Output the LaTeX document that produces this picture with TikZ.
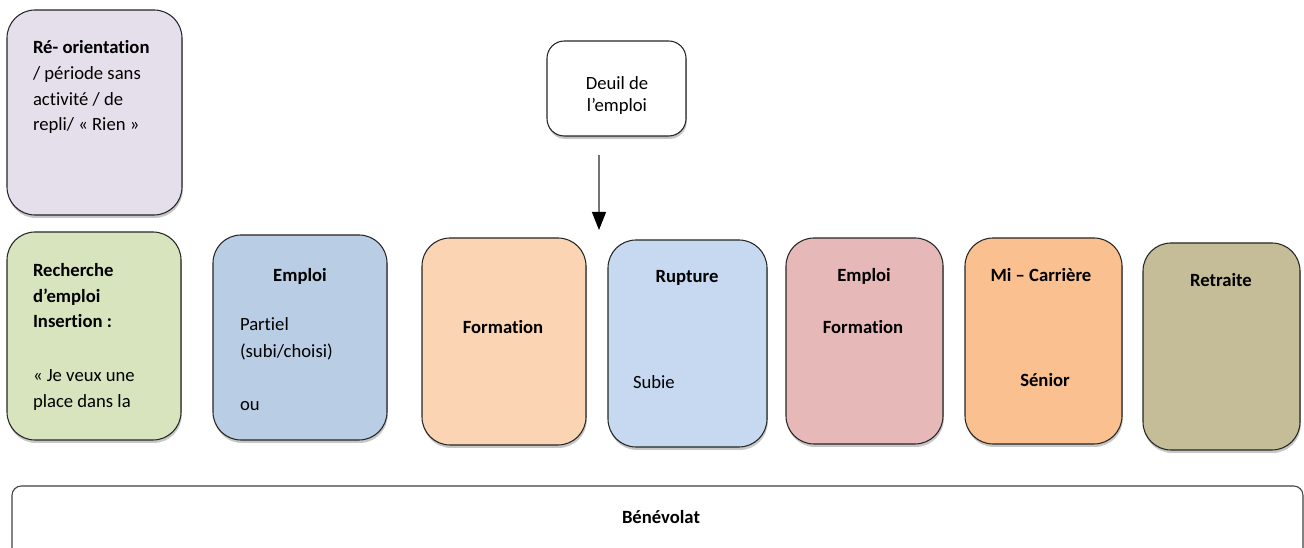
\documentclass[tikz,border=0pt]{standalone}
\usepackage{fontspec}
\setmainfont{Carlito}[Ligatures=NoCommon]
\usetikzlibrary{arrows.meta,shadows}
\definecolor{cReo}{HTML}{E5DFEC}
\definecolor{cRech}{HTML}{D7E4BD}
\definecolor{cEmpA}{HTML}{B9CDE5}
\definecolor{cForm}{HTML}{FBD4B4}
\definecolor{cRup}{HTML}{C6D9F1}
\definecolor{cEmpB}{HTML}{E6B9B8}
\definecolor{cMi}{HTML}{FAC090}
\definecolor{cRet}{HTML}{C4BD97}
\tikzset{
  box/.style={draw=black!85, line width=0.8pt, rounded corners=21pt, inner sep=0pt, outer sep=0pt,
    drop shadow={shadow xshift=0.6pt, shadow yshift=-2.2pt, opacity=0.4, fill=black!55}},
  smallbox/.style={box, rounded corners=13pt, fill=white, drop shadow={shadow xshift=0.4pt, shadow yshift=-1.2pt, opacity=0.15, fill=black!40}},
  widebox/.style={draw=black!75, line width=0.8pt, rounded corners=7pt, inner sep=0pt, outer sep=0pt, fill=white},
  txt/.style={inner sep=0pt, outer sep=0pt, font=\fontsize{14}{19.5}\selectfont},
  btxt/.style={txt, font=\fontsize{14}{19.5}\selectfont\bfseries},
  arr/.style={draw=black!55, line width=0.8pt, -{Triangle[length=13.5pt,width=10.5pt,color=black]}}
}
\begin{document}
\begin{tikzpicture}[x=0.75pt,y=-0.75pt]
\useasboundingbox (0,0) rectangle (1304,548);
\clip (0,0) rectangle (1304,548);
% boxes
\node[box, fill=cReo, minimum width=131.25pt, minimum height=153.75pt] (reo) at (94.5,112.5) {};
\node[box, fill=cRech, minimum width=130.5pt, minimum height=156pt] (rech) at (94,336) {};
\node[box, fill=cEmpA, minimum width=130.5pt, minimum height=153.75pt] (empA) at (300,337.5) {};
\node[box, fill=cForm, minimum width=123pt, minimum height=155.25pt] (form) at (504,341.5) {};
\node[box, fill=cRup, minimum width=119.25pt, minimum height=155.25pt] (rup) at (687.5,343.5) {};
\node[box, fill=cEmpB, minimum width=117.75pt, minimum height=154.5pt] (empB) at (864.5,341) {};
\node[box, fill=cMi, minimum width=117.75pt, minimum height=154.5pt] (mi) at (1043.5,341) {};
\node[box, fill=cRet, minimum width=117.75pt, minimum height=155.25pt] (ret) at (1221.5,346.5) {};
\node[smallbox, minimum width=104.25pt, minimum height=71.25pt] (deuil) at (616.5,88.5) {};
\node[widebox, minimum width=968.25pt, minimum height=70.5pt] (ben) at (657.5,533) {};
% texts: reo
\node[btxt, anchor=base west] (reo1) at (33,54) {Ré- orientation};
\node[txt, anchor=base west] (reo2) at (33,80) {/ période sans};
\node[txt, anchor=base west] (reo3) at (33,106) {activité / de};
\node[txt, anchor=base west] (reo4) at (33,131) {repli/ « Rien »};
% recherche
\node[btxt, anchor=base west] (rech1) at (33,277) {Recherche};
\node[btxt, anchor=base west] (rech2) at (33,303) {d’emploi};
\node[btxt, anchor=base west] (rech3) at (33,328) {Insertion :};
\node[txt, anchor=base west] (rech4) at (33,382) {« Je veux une};
\node[txt, anchor=base west] (rech5) at (33,408) {place dans la};
% emploi A
\node[btxt, anchor=base] (empA1) at (300,282) {Emploi};
\node[txt, anchor=base west] (empA2) at (240,331) {Partiel};
\node[txt, anchor=base west] (empA3) at (240,358) {(subi/choisi)};
\node[txt, anchor=base west] (empA4) at (240,411) {ou};
% formation
\node[btxt, anchor=base] (form1) at (503,334) {Formation};
% rupture
\node[btxt, anchor=base] (rup1) at (687,283) {Rupture};
\node[txt, anchor=base west] (rup2) at (633,389) {Subie};
% emploi B
\node[btxt, anchor=base] (empB1) at (864,282) {Emploi};
\node[btxt, anchor=base] (empB2) at (863,334) {Formation};
% mi-carriere
\node[btxt, anchor=base] (mi1) at (1041,282) {Mi – Carrière};
\node[btxt, anchor=base] (mi2) at (1045,387) {Sénior};
% retraite
\node[btxt, anchor=base] (ret1) at (1221,287) {Retraite};
% deuil
\node[txt, anchor=base] (deuil1) at (617,90) {Deuil de};
\node[txt, anchor=base] (deuil2) at (617,112) {l’emploi};
% benevolat
\node[btxt, anchor=base] (ben1) at (661,524) {Bénévolat};
% arrow
\coordinate (arrS) at ([shift={(-17.5,19)}]deuil.south);
\coordinate (arrE) at ([shift={(0,75)}]arrS);
\draw[arr] (arrS) -- (arrE);
\end{tikzpicture}
\end{document}
